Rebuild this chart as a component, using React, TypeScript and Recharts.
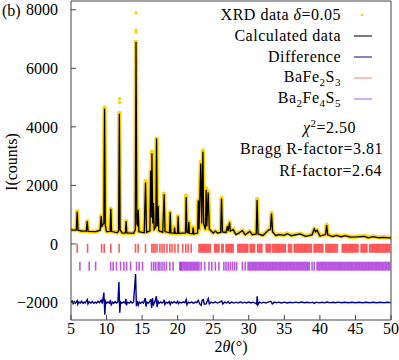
import { ComposedChart, Line, Scatter, XAxis, YAxis } from 'recharts';

// 2θ (deg) and counts
const obsProfile: [number, number][] = [
  [5.0, 490], [5.5, 470], [5.75, 490], [5.87, 1110], [5.98, 470], [6.5, 440], [7.15, 440], [7.28, 780],
  [7.4, 430], [8.5, 420], [9.1, 480], [9.25, 960], [9.35, 620], [9.62, 720], [9.72, 4650], [9.82, 650],
  [10.0, 420], [10.5, 440], [10.6, 1210], [10.7, 430], [11.5, 390], [11.7, 460], [11.8, 4480], [11.9, 480],
  [12.2, 370], [12.65, 390], [12.75, 790], [12.85, 380], [13.8, 360], [14.04, 480], [14.14, 6900], [14.26, 700],
  [14.38, 600], [14.46, 1180], [14.55, 420], [15.3, 390], [15.48, 2150], [15.62, 400], [16.1, 450], [16.2, 2500],
  [16.28, 900], [16.38, 3150], [16.5, 700], [16.6, 1400], [16.7, 500], [16.93, 600], [17.03, 3600], [17.13, 600],
  [17.25, 1300], [17.35, 450], [17.9, 400], [18.1, 1720], [18.22, 420], [18.85, 380], [18.95, 1090], [19.05, 380],
  [19.5, 370], [19.56, 570], [19.65, 360], [19.98, 370], [20.06, 950], [20.15, 360], [21.1, 380], [21.2, 1650],
  [21.3, 400], [21.5, 380], [21.57, 760], [21.65, 360], [22.1, 350], [22.18, 570], [22.27, 340], [22.8, 380],
  [22.9, 1500], [23.0, 500], [23.25, 2800], [23.38, 700], [23.55, 3200], [23.65, 700], [23.9, 500], [24.0, 1900],
  [24.1, 600], [24.29, 1800], [24.45, 500], [25.0, 380], [25.3, 450], [25.6, 380], [26.05, 400], [26.17, 1570],
  [26.3, 420], [26.8, 400], [27.0, 620], [27.1, 450], [27.3, 750], [27.4, 450], [27.8, 500], [28.2, 330],
  [28.6, 380], [29.1, 460], [29.5, 320], [30.15, 440], [30.5, 320], [31.05, 350], [31.17, 1530], [31.3, 350],
  [32.0, 300], [32.85, 500], [33.05, 500], [33.2, 1060], [33.35, 420], [33.8, 300], [34.3, 330], [35.0, 300],
  [35.4, 360], [36.0, 290], [37.2, 350], [38.0, 270], [38.9, 320], [39.2, 520], [39.4, 420], [39.6, 480],
  [40.0, 280], [40.8, 330], [40.95, 650], [41.1, 320], [41.8, 260], [42.3, 300], [43.0, 250], [43.5, 290],
  [44.3, 240], [45.2, 250], [46.3, 270], [46.8, 220], [47.5, 260], [48.3, 220], [49.0, 230], [50.0, 210],
];

// isolated observed points sitting above the fitted peak tops
const obsPeakDots: [number, number][] = [
  [14.15, 7900], [14.15, 7300], [14.15, 7240], [11.82, 4960], [11.82, 4830], [9.72, 4680],
];

const calcProfile: [number, number][] = [
  [5.0, 480], [5.5, 470], [5.75, 480], [5.87, 1100], [5.98, 470], [6.5, 440], [7.15, 440], [7.28, 780],
  [7.4, 430], [8.5, 420], [9.1, 470], [9.25, 950], [9.35, 600], [9.62, 700], [9.72, 4700], [9.82, 650],
  [10.0, 420], [10.5, 430], [10.6, 1200], [10.7, 430], [11.5, 380], [11.7, 450], [11.8, 4450], [11.9, 480],
  [12.2, 370], [12.65, 380], [12.75, 780], [12.85, 380], [13.8, 360], [14.04, 480], [14.14, 6900], [14.26, 700],
  [14.38, 600], [14.46, 1170], [14.55, 420], [15.3, 380], [15.48, 2100], [15.62, 400], [16.1, 450], [16.2, 2500],
  [16.28, 900], [16.38, 3100], [16.5, 700], [16.6, 1400], [16.7, 500], [16.93, 600], [17.03, 3600], [17.13, 600],
  [17.25, 1300], [17.35, 450], [17.9, 400], [18.1, 1700], [18.22, 420], [18.85, 380], [18.95, 1080], [19.05, 380],
  [19.5, 370], [19.56, 560], [19.65, 360], [19.98, 370], [20.06, 940], [20.15, 360], [21.1, 380], [21.2, 1600],
  [21.3, 400], [21.5, 380], [21.57, 750], [21.65, 360], [22.1, 350], [22.18, 560], [22.27, 340], [22.8, 370],
  [22.9, 1480], [23.0, 500], [23.25, 2750], [23.38, 700], [23.55, 3150], [23.65, 700], [23.9, 500], [24.0, 1850],
  [24.1, 600], [24.29, 1760], [24.45, 500], [25.0, 370], [25.3, 440], [25.6, 370], [26.05, 390], [26.17, 1550],
  [26.3, 410], [26.8, 390], [27.0, 610], [27.1, 440], [27.3, 740], [27.4, 440], [27.8, 490], [28.2, 320],
  [28.6, 370], [29.1, 455], [29.5, 310], [30.15, 430], [30.5, 310], [31.05, 340], [31.17, 1500], [31.3, 340],
  [32.0, 290], [32.85, 490], [33.05, 490], [33.2, 1040], [33.35, 410], [33.8, 290], [34.3, 320], [35.0, 290],
  [35.4, 350], [36.0, 280], [37.2, 340], [38.0, 260], [38.9, 310], [39.2, 510], [39.4, 410], [39.6, 470],
  [40.0, 270], [40.8, 320], [40.95, 640], [41.1, 310], [41.8, 250], [42.3, 290], [43.0, 240], [43.5, 280],
  [44.3, 230], [45.2, 240], [46.3, 260], [46.8, 210], [47.5, 250], [48.3, 210], [49.0, 220], [50.0, 200],
];

// difference curve, drawn with the -2000 offset used in the figure
const diffProfile: [number, number][] = [
  [5, -2000], [5.15, -1950], [5.3, -2040], [5.45, -1970], [5.6, -2030], [5.87, -1940], [5.95, -2060], [6.1, -1980],
  [6.3, -2020], [6.5, -1960], [6.7, -2030], [6.85, -1990], [7.0, -2020], [7.28, -1900], [7.38, -2050], [7.55, -1980],
  [7.8, -2020], [8.0, -1970], [8.2, -2030], [8.4, -1990], [8.6, -2020], [8.8, -1960], [9.0, -2010], [9.25, -1920],
  [9.4, -2040], [9.62, -1660], [9.76, -2420], [9.86, -1960], [10.0, -2030], [10.2, -1980], [10.4, -2020], [10.55, -1920],
  [10.65, -2080], [10.85, -1990], [11.0, -2030], [11.2, -1970], [11.4, -2020], [11.6, -1980], [11.74, -1300], [11.86, -2350],
  [11.96, -1980], [12.15, -2030], [12.4, -1980], [12.6, -2020], [12.72, -1880], [12.8, -2100], [12.95, -1990], [13.2, -2020],
  [13.4, -1970], [13.6, -2020], [13.8, -1990], [14.08, -1030], [14.2, -2130], [14.3, -1950], [14.46, -2090], [14.6, -1990],
  [14.8, -2030], [15.0, -1980], [15.2, -2020], [15.44, -1850], [15.54, -2140], [15.7, -1990], [15.9, -2020], [16.1, -1960],
  [16.2, -1890], [16.35, -2190], [16.45, -1850], [16.6, -2080], [16.8, -1980], [17.0, -1790], [17.1, -2160], [17.25, -1960],
  [17.4, -2030], [17.6, -1980], [17.8, -2020], [18.0, -1980], [18.1, -1910], [18.2, -2070], [18.4, -1990], [18.6, -2020],
  [18.8, -1970], [18.95, -2070], [19.1, -1980], [19.3, -2020], [19.5, -1970], [19.8, -2020], [20.0, -1960], [20.1, -2040],
  [20.3, -1990], [20.5, -2020], [20.8, -1980], [21.0, -2010], [21.2, -1900], [21.3, -2080], [21.5, -1990], [21.7, -2020],
  [22.0, -1980], [22.2, -2030], [22.5, -1990], [22.7, -2010], [22.9, -1930], [23.1, -2050], [23.3, -2100], [23.45, -1920],
  [23.6, -1900], [23.75, -2060], [24.0, -2050], [24.15, -1960], [24.3, -1870], [24.45, -2050], [24.7, -1990], [25.0, -2020],
  [25.3, -1980], [25.6, -2020], [25.9, -1990], [26.2, -1950], [26.35, -2050], [26.6, -1990], [26.9, -2020], [27.1, -1970],
  [27.3, -2030], [27.6, -1990], [27.9, -2020], [28.2, -1990], [28.5, -2020], [28.8, -1980], [29.1, -2020], [29.4, -1990],
  [29.7, -2015], [30.0, -1985], [30.3, -2015], [30.6, -1990], [30.9, -2020], [31.1, -2060], [31.18, -1790], [31.28, -2080],
  [31.5, -1990], [31.8, -2020], [32.1, -1990], [32.4, -2020], [32.8, -1980], [33.1, -1960], [33.3, -2050], [33.6, -1990],
  [33.9, -2015], [34.2, -1990], [34.6, -2020], [35.0, -1990], [35.4, -2020], [35.8, -1995], [36.2, -2015], [36.6, -1990],
  [37.0, -2015], [37.4, -1985], [37.8, -2010], [38.2, -1995], [38.6, -2015], [39.0, -1990], [39.2, -2035], [39.5, -1990],
  [39.9, -2015], [40.3, -1995], [40.7, -2015], [41.0, -1985], [41.4, -2015], [41.8, -1995], [42.2, -2010], [42.6, -1990],
  [43.0, -2010], [43.5, -1995], [44.0, -2010], [44.5, -1995], [45.0, -2010], [45.5, -1995], [46.0, -2010], [46.5, -1995],
  [47.0, -2010], [47.5, -1995], [48.0, -2010], [48.5, -1995], [49.0, -2010], [49.5, -1995], [50.0, -2005],
];

// Bragg reflection positions (2θ)
const braggBaFe2S3 = [
  5.87, 7.33, 9.3, 9.67, 10.6, 11.77, 14.07, 14.44, 15.48, 16.37, 16.6, 16.83, 17.1, 17.5, 17.8, 18.1, 18.5,
  18.9, 19.2, 19.6, 20.06, 20.7, 21.14, 21.47, 21.9, 23.0, 23.2, 23.4, 23.6, 23.8, 24.0, 24.2, 24.4, 24.6,
  25.2, 25.4, 25.6, 25.8, 26.2, 26.4, 26.8, 27.0, 27.2, 27.4, 27.6, 27.8, 28.45, 28.65, 28.85, 29.05, 29.25,
  29.45, 29.65, 29.85, 30.2, 30.4, 30.6, 30.8, 31.25, 31.45, 31.65, 31.85, 32.45, 32.65, 32.85, 33.05, 33.35,
  33.55, 33.75, 33.95, 34.15, 34.35, 34.55, 34.75, 34.95, 35.15, 35.6, 35.8, 36.0, 36.4, 36.6, 36.8, 37.0,
  37.2, 37.4, 37.6, 37.8, 38.0, 38.2, 38.4, 38.6, 38.8, 39.2, 39.4, 39.6, 39.8, 40.0, 40.2, 40.4, 40.85, 41.05,
  41.25, 41.45, 41.65, 41.85, 42.05, 42.25, 42.45, 43.15, 43.35, 43.55, 43.75, 43.95, 44.15, 44.35, 44.55,
  44.75, 44.95, 45.15, 45.35, 45.8, 46.0, 46.2, 46.4, 46.6, 47.0, 47.2, 47.4, 47.6, 47.8, 48.0, 48.2, 48.4,
  48.6, 48.8, 49.0, 49.2, 49.4, 49.6, 49.8,
];
const braggBa2Fe4S5 = [
  6.25, 7.56, 8.46, 10.57, 10.93, 11.4, 11.97, 12.44, 12.82, 13.38, 14.22, 14.59, 15.06, 16.33, 16.65, 16.93,
  17.26, 17.5, 17.8, 18.1, 18.43, 18.9, 19.36, 20.3, 20.45, 20.6, 20.8, 21.0, 21.2, 21.4, 21.6, 21.8, 22.0,
  22.2, 22.4, 22.6, 22.8, 23.0, 23.3, 23.8, 24.4, 24.8, 25.3, 25.8, 26.5, 26.8, 27.1, 27.4, 27.7, 28.0, 28.3,
  29.1, 29.5, 29.9, 30.1, 30.3, 30.5, 30.7, 30.9, 31.1, 31.3, 31.5, 31.7, 31.9, 32.1, 32.3, 32.5, 32.7, 32.9,
  33.1, 33.3, 33.5, 33.7, 33.9, 34.1, 34.3, 34.5, 34.7, 34.9, 35.1, 35.3, 35.5, 35.7, 35.9, 36.1, 36.3, 36.5,
  36.7, 36.9, 37.1, 37.3, 37.5, 37.7, 37.9, 38.1, 38.3, 38.5, 38.9, 39.2, 39.6, 39.8, 40.0, 40.2, 40.4, 40.6,
  40.8, 41.0, 41.2, 41.4, 41.6, 41.8, 42.0, 42.2, 42.4, 42.6, 42.8, 43.0, 43.2, 43.4, 43.6, 43.8, 44.0, 44.2,
  44.4, 44.6, 44.8, 45.0, 45.2, 45.4, 45.6, 45.8, 46.0, 46.2, 46.4, 46.6, 46.8, 47.0, 47.2, 47.4, 47.6, 47.8,
  48.0, 48.2, 48.4, 48.6, 48.8, 49.0, 49.2, 49.4, 49.6, 49.8,
];

const xTicks = [5, 10, 15, 20, 25, 30, 35, 40, 45, 50];
const yTicks = [-2000, 0, 2000, 4000, 6000, 8000];

const FONT = '"Liberation Serif", "Times New Roman", serif';
const GOLD = '#FFD400';
const NAVY = '#00008B';
const RED = '#FF0000';
const VIOLET = '#9400D3';

const toPts = (arr: [number, number][]) => arr.map(([t, c]) => ({ t, c }));

const barShape = (color: string) => (p: any) => (
  <line x1={p.cx} x2={p.cx} y1={p.cy - 4.5} y2={p.cy + 4.5} stroke={color} strokeOpacity={0.65} strokeWidth={1.6} />
);

const dotShape = (p: any) => <circle cx={p.cx} cy={p.cy} r={1.7} fill={GOLD} />;

const fmtY = (v: number) => (v < 0 ? `\u2212${Math.abs(v)}` : `${v}`);

function LegendRow({ label, children, top }: { label: React.ReactNode; children: React.ReactNode; top: number }) {
  return (
    <div style={{ position: 'absolute', top, right: 27, display: 'flex', alignItems: 'center', height: 20 }}>
      <span style={{ marginRight: 13, whiteSpace: 'nowrap' }}>{label}</span>
      <svg width={18} height={4}>{children}</svg>
    </div>
  );
}

const sub = { fontSize: 11 };

export default function App() {
  const obs = toPts(obsProfile);
  const calc = toPts(calcProfile);
  const diff = toPts(diffProfile);
  const dots = toPts(obsPeakDots);
  const red = braggBaFe2S3.map((t) => ({ t, c: -150 }));
  const violet = braggBa2Fe4S5.map((t) => ({ t, c: -760 }));

  return (
    <div style={{ position: 'absolute', left: 0, top: 0, width: 399, height: 360, fontFamily: FONT, color: '#000', background: '#fff' }}>
      <ComposedChart width={399} height={360} margin={{ top: 0, right: 0, bottom: 0, left: 0 }}>
        <XAxis
          xAxisId="b"
          type="number"
          dataKey="t"
          domain={[5, 50]}
          ticks={xTicks}
          allowDataOverflow
          height={40}
          tickSize={-5}
          tickMargin={8}
          stroke="#444"
          tick={{ fill: '#000', fontSize: 16, fontFamily: FONT }}
        />
        <XAxis xAxisId="t" type="number" orientation="top" dataKey="t" domain={[5, 50]} ticks={xTicks} allowDataOverflow height={1} tickSize={-5} tick={false} stroke="#444" />
        <YAxis
          yAxisId="l"
          type="number"
          domain={[-2600, 8300]}
          ticks={yTicks}
          allowDataOverflow
          width={71}
          tickSize={-5}
          tickMargin={18}
          stroke="#444"
          tickFormatter={fmtY}
          tick={{ fill: '#000', fontSize: 16, fontFamily: FONT }}
        />
        <YAxis yAxisId="r" type="number" orientation="right" domain={[-2600, 8300]} ticks={yTicks} allowDataOverflow width={8} tickSize={-5} tick={false} stroke="#444" />

        <Scatter xAxisId="b" yAxisId="l" data={red} dataKey="c" shape={barShape(RED)} isAnimationActive={false} />
        <Scatter xAxisId="b" yAxisId="l" data={violet} dataKey="c" shape={barShape(VIOLET)} isAnimationActive={false} />
        <Line xAxisId="b" yAxisId="l" data={diff} dataKey="c" stroke={NAVY} strokeWidth={1.4} dot={false} isAnimationActive={false} />
        <Line xAxisId="b" yAxisId="l" data={obs} dataKey="c" stroke={GOLD} strokeWidth={4.2} strokeLinejoin="round" dot={false} isAnimationActive={false} />
        <Scatter xAxisId="b" yAxisId="l" data={dots} dataKey="c" shape={dotShape} isAnimationActive={false} />
        <Line xAxisId="b" yAxisId="l" data={calc} dataKey="c" stroke="#000" strokeWidth={1.3} dot={false} isAnimationActive={false} />
      </ComposedChart>

      <div style={{ position: 'absolute', left: 2, top: 2, fontSize: 16 }}>(b)</div>
      <div style={{ position: 'absolute', left: 12, top: 162, transform: 'translate(-50%, -50%) rotate(-90deg)', fontSize: 16, whiteSpace: 'nowrap' }}>I(counts)</div>
      <div style={{ position: 'absolute', left: 231, top: 338, transform: 'translateX(-50%)', fontSize: 16, whiteSpace: 'nowrap' }}>
        2<i>θ</i>(°)
      </div>

      <div style={{ fontSize: 16, letterSpacing: 0.5 }}>
        <LegendRow top={5} label={<>XRD data <i>δ</i>=0.05</>}>
          <circle cx={8} cy={2} r={1.3} fill={GOLD} />
        </LegendRow>
        <LegendRow top={26} label="Calculated data">
          <line x1={0} x2={18} y1={2} y2={2} stroke="#333" strokeWidth={1.3} />
        </LegendRow>
        <LegendRow top={47} label="Difference">
          <line x1={0} x2={18} y1={2} y2={2} stroke="#5a5ac0" strokeWidth={1.5} />
        </LegendRow>
        <LegendRow top={68} label={<>BaFe<sub style={sub}>2</sub>S<sub style={sub}>3</sub></>}>
          <line x1={0} x2={18} y1={2} y2={2} stroke="#ff9a9a" strokeWidth={1.3} />
        </LegendRow>
        <LegendRow top={89} label={<>Ba<sub style={sub}>2</sub>Fe<sub style={sub}>4</sub>S<sub style={sub}>5</sub></>}>
          <line x1={0} x2={18} y1={2} y2={2} stroke="#c07ef0" strokeWidth={1.3} />
        </LegendRow>
        <div style={{ position: 'absolute', right: 43, top: 117, whiteSpace: 'nowrap' }}>
          <i>χ</i><sup style={sub}>2</sup>=2.50
        </div>
        <div style={{ position: 'absolute', right: 16, top: 140, whiteSpace: 'nowrap' }}>Bragg R-factor=3.81</div>
        <div style={{ position: 'absolute', right: 17, top: 162, whiteSpace: 'nowrap' }}>Rf-factor=2.64</div>
      </div>
    </div>
  );
}
